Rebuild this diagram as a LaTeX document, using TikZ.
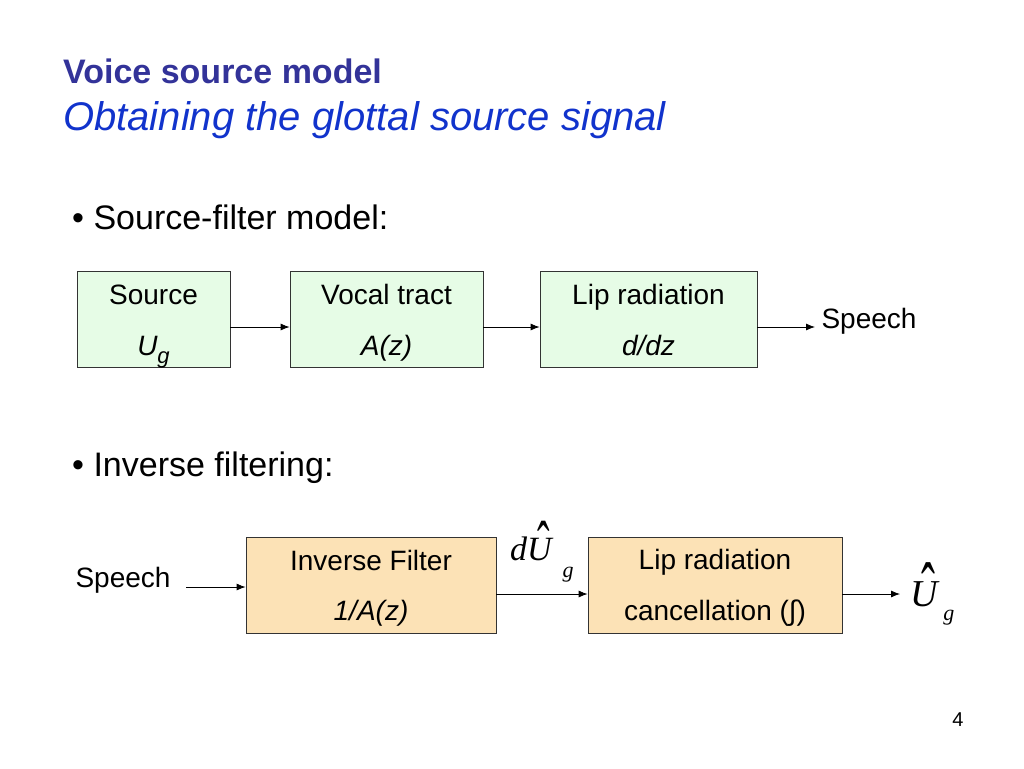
\documentclass[tikz,border=0pt]{standalone}
\usepackage{fontspec}
\setmainfont{Liberation Sans}
\newfontfamily\tms{Liberation Serif}
\usetikzlibrary{arrows.meta}
\definecolor{titleblue}{HTML}{333399}
\definecolor{subblue}{HTML}{1133CC}
\definecolor{greenfill}{HTML}{E6FCE6}
\definecolor{orangefill}{HTML}{FCE2B6}
\newcommand{\hatU}{\makebox[0pt][l]{\hspace{0.29em}\raisebox{-0.24em}{\scalebox{1.1}[2.0]{\upshape ˆ}}}U}
\tikzset{
  box/.style={draw=black!80, line width=0.8pt, inner sep=0pt},
  gbox/.style={box, fill=greenfill},
  obox/.style={box, fill=orangefill},
  txt/.style={anchor=base, inner sep=0pt, font=\fontsize{28}{32}\selectfont},
  conn/.style={-{Latex[length=9pt,width=7pt]}, line width=0.8pt},
}
\begin{document}
\begin{tikzpicture}[x=1pt,y=-1pt]
\useasboundingbox (0,0) rectangle (1024,768);
% titles
\node[anchor=base west, inner sep=0pt, text=titleblue, font=\fontsize{34}{38}\selectfont\bfseries] (t1) at (63,83) {Voice source model};
\node[anchor=base west, inner sep=0pt, text=subblue, font=\fontsize{40}{44}\selectfont\itshape] (t2) at (63,130) {Obtaining the glottal source signal};
\node[anchor=base west, inner sep=0pt, font=\fontsize{34}{38}\selectfont] (b1) at (72,229) {• Source-filter model:};
\node[anchor=base west, inner sep=0pt, font=\fontsize{34}{38}\selectfont] (b2) at (72,476) {• Inverse filtering:};
% upper chain
\node[gbox, minimum width=153pt, minimum height=96pt] (src) at (153.5,319) {};
\node[gbox, minimum width=193pt, minimum height=96pt] (vt) at (386.5,319) {};
\node[gbox, minimum width=217pt, minimum height=96pt] (lip) at (648.5,319) {};
\node[txt] (srcA) at (153.5,304) {Source};
\node[txt] (srcB) at (153.5,355) {\itshape U\raisebox{-0.3em}{\fontsize{22}{24}\selectfont g}};
\node[txt] (vtA) at (386.5,304) {Vocal tract};
\node[txt] (vtB) at (386.5,355) {\itshape A(z)};
\node[txt] (lipA) at (648.5,304) {Lip radiation};
\node[txt] (lipB) at (648.5,355) {\itshape d/dz};
\coordinate (sp1end) at (815,327);
\node[txt] (sp1) at (869,328) {Speech};
\draw[conn] (src.east |- 0,327) -- (vt.west |- 0,327);
\draw[conn] (vt.east |- 0,327) -- (lip.west |- 0,327);
\draw[conn] (lip.east |- 0,327) -- (sp1end);
% lower chain
\node[obox, minimum width=250pt, minimum height=96pt] (inv) at (371,585) {};
\node[obox, minimum width=254pt, minimum height=96pt] (can) at (715,585) {};
\node[txt] (invA) at (371,570) {Inverse Filter};
\node[txt] (invB) at (371,620) {\itshape 1/A(z)};
\node[txt] (canA) at (715,569) {Lip radiation};
\node[txt] (canB) at (715,620) {cancellation (∫)};
\node[txt] (sp2) at (123,587) {Speech};
\coordinate (sp2start) at (186,587);
\coordinate (outend) at (900,594);
\draw[conn] (sp2start) -- (inv.west |- 0,587);
\draw[conn] (inv.east |- 0,594) -- (can.west |- 0,594);
\draw[conn] (can.east |- 0,594) -- (outend);
\node[anchor=base west, inner sep=0pt, font=\tms\itshape\fontsize{34}{36}\selectfont] (dU) at (510,560) {d\hatU\hspace{0.32em}\raisebox{-0.52em}{\fontsize{22}{24}\selectfont g}};
\node[anchor=base west, inner sep=0pt, font=\tms\itshape\fontsize{38}{42}\selectfont] (Uhat) at (910,606) {\hatU\hspace{0.15em}\raisebox{-0.38em}{\fontsize{22}{24}\selectfont g}};
% page number
\node[anchor=base, inner sep=0pt, font=\fontsize{20}{22}\selectfont] (pg) at (958,726) {4};
\end{tikzpicture}
\end{document}
